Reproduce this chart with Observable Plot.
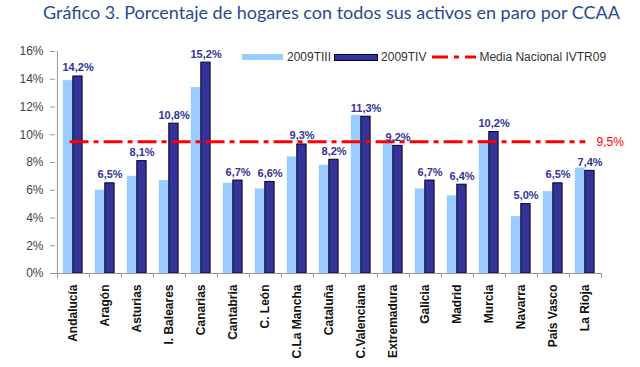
<!DOCTYPE html>
<html>
<head>
<meta charset="utf-8">
<script src="https://cdn.jsdelivr.net/npm/d3@7"></script>
<script src="https://cdn.jsdelivr.net/npm/@observablehq/plot@0.6"></script>
<style>
  html, body { margin: 0; padding: 0; background: #fff; }
  #wrap { position: relative; width: 640px; height: 367px; overflow: hidden; }
  #title { height: 30px; line-height: 24px; font-family: Lato, "Open Sans", sans-serif; font-size: 18px; color: #2a4b8d; text-align: center; padding-left: 23px; box-sizing: border-box; white-space: nowrap; }
  #legend { position: absolute; left: 242px; top: 49px; display: flex; align-items: center; font-family: "Liberation Sans", Arial, sans-serif; font-size: 12px; color: #333; height: 16px; }
  #legend .sw { display: inline-block; height: 6px; }
  svg g[aria-label="values"] text { letter-spacing: 0.8px; }
</style>
</head>
<body>
<div id="wrap">
  <div id="title">Gráfico 3. Porcentaje de hogares con todos sus activos en paro por CCAA</div>
  <div id="chart"></div>
  <div id="legend">
    <span class="sw" style="width:41px;background:#99ccff"></span>
    <span style="margin-left:4px">2009TIII</span>
    <span class="sw" style="width:42px;background:#333399;border:1px solid #000033;margin-left:3px;height:5px"></span>
    <span style="margin-left:3px">2009TIV</span>
    <svg width="44" height="6" style="margin-left:6px"><line x1="0" y1="3" x2="44" y2="3" stroke="#ff0000" stroke-width="3" stroke-dasharray="16,6,5,6"></line></svg>
    <span style="margin-left:3px">Media Nacional IVTR09</span>
  </div>
</div>
<script>
const categories = ["Andalucía","Aragón","Asturias","I. Baleares","Canarias","Cantabria","C. León","C.La Mancha","Cataluña","C.Valenciana","Extremadura","Galicia","Madrid","Murcia","Navarra","País Vasco","La Rioja"];
const tIII = [13.9, 6.0, 7.0, 6.7, 13.4, 6.5, 6.1, 8.4, 7.8, 11.4, 9.4, 6.1, 5.6, 9.6, 4.1, 5.9, 7.6];
const tIV  = [14.2, 6.5, 8.1, 10.8, 15.2, 6.7, 6.6, 9.3, 8.2, 11.3, 9.2, 6.7, 6.4, 10.2, 5.0, 6.5, 7.4];
const media = 9.5;
const yTicks = [0, 2, 4, 6, 8, 10, 12, 14, 16];

const rows = categories.map((c, i) => ({c, a: tIII[i], b: tIV[i]}));
const fmt = v => v.toFixed(1).replace(".", ",") + "%";

const W = 640, H = 337, mL = 55, mR = 38, mT = 21, mB = 94;
const bw = (W - mL - mR) / categories.length;
const plotH = H - mT - mB;

const chart = Plot.plot({
  width: W, height: H,
  marginLeft: mL, marginRight: mR, marginTop: mT, marginBottom: mB,
  style: {fontFamily: "'Liberation Sans', Arial, sans-serif", background: "#fff"},
  x: {type: "band", domain: categories, padding: 0, label: null},
  y: {domain: [0, 16], label: null},
  marks: [
    Plot.barY(rows, {x: "c", y: "a", fill: "#99ccff", insetLeft: 5.8, insetRight: 16.5}),
    Plot.barY(rows, {x: "c", y: "b", fill: "#333399", stroke: "#000033", strokeWidth: 1, insetLeft: 15.8, insetRight: 6.9}),
    Plot.ruleY([0], {stroke: "#999"}),
    Plot.ruleX(categories, {x: d => d, dx: -bw / 2, stroke: "#999", insetTop: plotH, insetBottom: -5}),
    Plot.ruleX([categories[categories.length - 1]], {x: d => d, dx: bw / 2, stroke: "#999", insetTop: plotH, insetBottom: -5}),
    Plot.ruleX([categories[0]], {x: d => d, dx: -bw / 2, stroke: "#999"}),
    Plot.ruleY([media], {y: d => d, stroke: "#ff0000", strokeWidth: 3, strokeDasharray: "19,5,5,5", insetLeft: 14.6, insetRight: 16.7}),
    Plot.text([media], {y: d => d, text: d => fmt(d), frameAnchor: "right", textAnchor: "start", dx: -6, fill: "#ff0000", fontSize: 12}),
    Plot.text(rows, {x: "c", y: "b", text: d => fmt(d.b), dx: 4.6, dy: -5, lineAnchor: "bottom", fill: "#333399", fontWeight: "bold", fontSize: 11, ariaLabel: "values"}),
    Plot.axisY({ticks: yTicks, tickFormat: d => d + "%", tickSize: 5, tickPadding: 7, fontSize: 12, stroke: "#999", fill: "#444", label: null}),
    Plot.axisX({tickSize: 0, tickRotate: -90, tickPadding: 11, fontSize: 12, fontWeight: "bold", fill: "#111", label: null})
  ]
});
document.getElementById("chart").appendChild(chart);
</script>
</body>
</html>
